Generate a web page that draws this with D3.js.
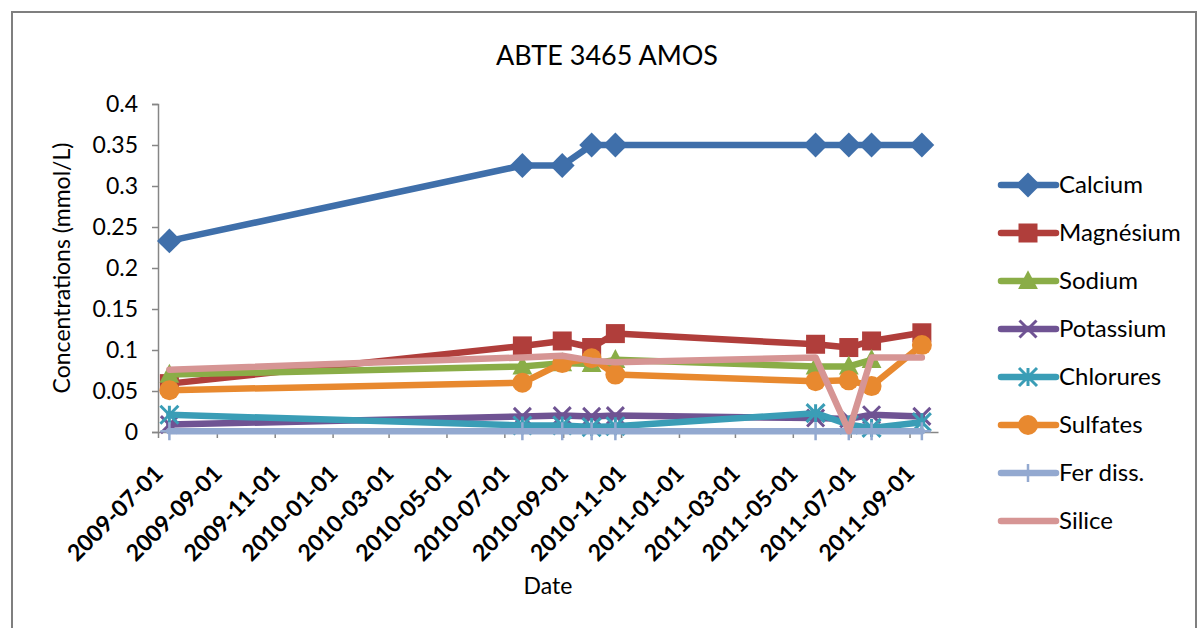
<!DOCTYPE html>
<html>
<head>
<meta charset="utf-8">
<script src="https://cdn.jsdelivr.net/npm/d3@7"></script>
<style>
  html, body { margin: 0; padding: 0; background: #fff; }
  svg text { font-family: Lato, "Open Sans", sans-serif; fill: #000; }
</style>
</head>
<body>
<svg id="chart" width="1202" height="628"></svg>
<script>
// ---- data ----
const title = "ABTE 3465 AMOS";
const xTitle = "Date";
const yTitle = "Concentrations (mmol/L)";
const dates = ["2009-07-13", "2010-07-20", "2010-08-31", "2010-10-01", "2010-10-26",
               "2011-05-25", "2011-06-29", "2011-07-23", "2011-09-14"];
const seriesNames = ["Calcium", "Magnésium", "Sodium", "Potassium", "Chlorures", "Sulfates", "Fer diss.", "Silice"];
const calcium   = [0.233, 0.325, 0.325, 0.35, 0.35, 0.35, 0.35, 0.35, 0.35];
const magnesium = [0.059, 0.105, 0.111, 0.103, 0.12, 0.107, 0.103, 0.111, 0.121];
const sodium    = [0.070, 0.080, 0.084, 0.083, 0.088, 0.080, 0.080, 0.088, null];
const potassium = [0.009, 0.019, 0.020, 0.019, 0.020, 0.017, 0.016, 0.021, 0.019];
const chlorures = [0.021, 0.008, 0.008, 0.006, 0.007, 0.023, 0.009, 0.005, 0.012];
const sulfates  = [0.051, 0.060, 0.084, 0.090, 0.070, 0.062, 0.063, 0.056, 0.106];
const ferDiss   = [0.001, 0.001, 0.001, 0.001, 0.001, 0.001, 0.001, 0.001, 0.001];
const silice    = [0.076, 0.091, 0.093, 0.087, 0.085, 0.091, 0.001, 0.091, 0.091];
const yTicks = [0, 0.05, 0.1, 0.15, 0.2, 0.25, 0.3, 0.35, 0.4];
const xDomain = ["2009-07-01", "2011-10-01"];
const xTickStart = "2009-07-01", xTickEnd = "2011-09-01";

const colors = ["#3F6FAA", "#B03E3B", "#8AAD47", "#6F5393", "#3A9DB6", "#E8892F", "#93A9D0", "#D69594"];
const markers = ["diamond", "square", "triangle", "x", "star", "circle", "plus", "none"];
const values = [calcium, magnesium, sodium, potassium, chlorures, sulfates, ferDiss, silice];

// ---- layout ----
const svg = d3.select("#chart");
const parse = d3.utcParse("%Y-%m-%d");
const fmt = d3.utcFormat("%Y-%m-%d");
const plot = { left: 158, right: 938, top: 104, bottom: 432 };

const x = d3.scaleUtc().domain(xDomain.map(parse)).range([plot.left, plot.right]);
const y = d3.scaleLinear().domain([0, 0.4]).range([plot.bottom, plot.top]);

svg.append("rect").attr("x", 0).attr("y", 0).attr("width", 1202).attr("height", 628).attr("fill", "#fff");
svg.append("rect").attr("x", 12).attr("y", 12).attr("width", 1184).attr("height", 640)
  .attr("fill", "none").attr("stroke", "#7f7f7f").attr("stroke-width", 2);

svg.append("text").attr("x", 607).attr("y", 65).attr("text-anchor", "middle")
  .style("font-size", "27px").text(title);

// y axis
const yAxis = d3.axisLeft(y).tickValues(yTicks).tickSize(6).tickPadding(14)
  .tickFormat(d => d3.format("")(+d.toFixed(2)));
const gy = svg.append("g").attr("transform", `translate(${plot.left},0)`).call(yAxis);
gy.select(".domain").attr("stroke", "#868686").attr("stroke-width", 1.5);
gy.selectAll(".tick line").attr("stroke", "#868686").attr("stroke-width", 1.5);
gy.selectAll(".tick text").style("font-size", "23px").style("font-family", "Lato, sans-serif");

// x axis
const xTickVals = d3.utcMonth.every(2).range(parse(xTickStart), d3.utcDay.offset(parse(xTickEnd), 1));
const xAxis = d3.axisBottom(x).tickValues(xTickVals).tickSize(6).tickSizeOuter(0).tickFormat(fmt);
const gx = svg.append("g").attr("transform", `translate(0,${plot.bottom})`).call(xAxis);
gx.select(".domain").attr("stroke", "#868686").attr("stroke-width", 1.5);
gx.selectAll(".tick line").attr("stroke", "#868686").attr("stroke-width", 1.5);
gx.selectAll(".tick text")
  .style("font-size", "23px").style("font-weight", "bold").style("font-family", "Lato, sans-serif")
  .attr("text-anchor", "end")
  .attr("dy", null).attr("y", 0)
  .attr("transform", "translate(6,43) rotate(-45)");

svg.append("text").attr("x", 548).attr("y", 594).attr("text-anchor", "middle")
  .style("font-size", "23px").text(xTitle);
svg.append("text").attr("transform", "translate(70,268) rotate(-90)").attr("text-anchor", "middle")
  .style("font-size", "23px").text(yTitle);

// marker drawing
function drawMarker(g, type, color, cx, cy, s) {
  if (type === "diamond") {
    g.append("path").attr("d", `M${cx},${cy - s * 0.62}L${cx + s * 0.62},${cy}L${cx},${cy + s * 0.62}L${cx - s * 0.62},${cy}Z`).attr("fill", color);
  } else if (type === "square") {
    g.append("rect").attr("x", cx - s / 2).attr("y", cy - s / 2).attr("width", s).attr("height", s).attr("fill", color);
  } else if (type === "triangle") {
    g.append("path").attr("d", `M${cx},${cy - s * 0.6}L${cx + s * 0.55},${cy + s * 0.45}L${cx - s * 0.55},${cy + s * 0.45}Z`).attr("fill", color);
  } else if (type === "circle") {
    g.append("circle").attr("cx", cx).attr("cy", cy).attr("r", s / 2).attr("fill", color);
  } else if (type === "x") {
    const h = s / 2;
    g.append("path").attr("d", `M${cx - h},${cy - h}L${cx + h},${cy + h}M${cx + h},${cy - h}L${cx - h},${cy + h}`)
      .attr("stroke", color).attr("stroke-width", 3).attr("fill", "none");
  } else if (type === "star") {
    const h = s / 2;
    g.append("path").attr("d", `M${cx - h},${cy - h}L${cx + h},${cy + h}M${cx + h},${cy - h}L${cx - h},${cy + h}M${cx},${cy - h}L${cx},${cy + h}`)
      .attr("stroke", color).attr("stroke-width", 3).attr("fill", "none");
  } else if (type === "plus") {
    const h = s / 2;
    g.append("path").attr("d", `M${cx},${cy - h}L${cx},${cy + h}M${cx - h},${cy}L${cx + h},${cy}`)
      .attr("stroke", color).attr("stroke-width", 2.5).attr("fill", "none");
  }
}
const markerSize = { diamond: 20, square: 19, triangle: 18, circle: 20, x: 17, star: 18, plus: 18, none: 0 };

// series
const line = d3.line().defined(d => d.v !== null).x(d => x(d.t)).y(d => y(d.v));
const dts = dates.map(parse);
seriesNames.forEach((name, i) => {
  const pts = dts.map((t, j) => ({ t, v: values[i][j] }));
  const g = svg.append("g");
  g.append("path").datum(pts).attr("d", line).attr("fill", "none")
    .attr("stroke", colors[i]).attr("stroke-width", 6.5).attr("stroke-linejoin", "round").attr("stroke-linecap", "round");
  pts.filter(d => d.v !== null).forEach(d => drawMarker(g, markers[i], colors[i], x(d.t), y(d.v), markerSize[markers[i]]));
});

// legend
const legend = svg.append("g");
seriesNames.forEach((name, i) => {
  const ly = 185 + i * 48;
  const g = legend.append("g");
  g.append("line").attr("x1", 1001).attr("x2", 1056).attr("y1", ly).attr("y2", ly)
    .attr("stroke", colors[i]).attr("stroke-width", 6.5).attr("stroke-linecap", "round");
  drawMarker(g, markers[i], colors[i], 1028, ly, markerSize[markers[i]]);
  g.append("text").attr("x", 1059).attr("y", ly).attr("dy", "0.35em")
    .style("font-size", "24px").text(name);
});
</script>
</body>
</html>
